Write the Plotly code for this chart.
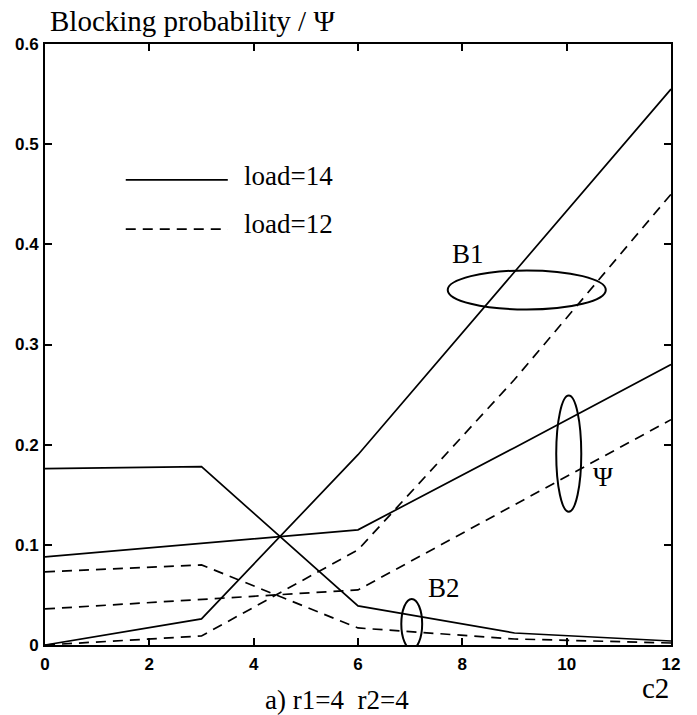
import plotly.graph_objects as go

# Number of channels c2 (evaluated points)
c2 = [0, 3, 6, 9, 12]

# load = 14
b1_load14 = [0.0, 0.026, 0.19, 0.372, 0.555]
b2_load14 = [0.176, 0.178, 0.039, 0.012, 0.004]
psi_load14 = [0.088, 0.1015, 0.115, 0.197, 0.28]

# load = 12
b1_load12 = [0.0, 0.009, 0.095, 0.265, 0.45]
b2_load12 = [0.073, 0.080, 0.017, 0.006, 0.002]
psi_load12 = [0.036, 0.0455, 0.055, 0.14, 0.225]

x_ticks = [0, 2, 4, 6, 8, 10, 12]
y_ticks = [0, 0.1, 0.2, 0.3, 0.4, 0.5, 0.6]
y_tick_text = ["0", "0.1", "0.2", "0.3", "0.4", "0.5", "0.6"]

SERIF = "Liberation Serif, Times New Roman, serif"
SANS = "Liberation Sans, Arial, sans-serif"
DASH = "10px,7px"

fig = go.Figure()

solid = dict(color="black", width=1.7)
dashed = dict(color="black", width=1.7, dash=DASH)

for ys in (b1_load14, b2_load14, psi_load14):
    fig.add_trace(go.Scatter(x=c2, y=ys, mode="lines", line=solid,
                             showlegend=False, hoverinfo="skip"))
for ys in (b1_load12, b2_load12, psi_load12):
    fig.add_trace(go.Scatter(x=c2, y=ys, mode="lines", line=dashed,
                             showlegend=False, hoverinfo="skip"))

# grouping ellipses around each pair of curves
ell = dict(type="circle", xref="x", yref="y", line=dict(color="black", width=2),
           fillcolor="rgba(0,0,0,0)")
fig.add_shape(x0=7.72, x1=10.75, y0=0.335, y1=0.374, **ell)
fig.add_shape(x0=9.8, x1=10.28, y0=0.133, y1=0.249, **ell)
fig.add_shape(x0=6.83, x1=7.23, y0=-0.004, y1=0.046, **ell)

# legend samples
fig.add_shape(type="line", xref="x domain", yref="y domain",
              x0=0.129, x1=0.292, y0=0.774, y1=0.774, line=solid)
fig.add_shape(type="line", xref="x domain", yref="y domain",
              x0=0.129, x1=0.292, y0=0.692, y1=0.692, line=dashed)

txt = dict(font=dict(family=SERIF, size=27, color="black"), showarrow=False)
fig.add_annotation(text="load=14", xref="x domain", yref="y domain",
                   x=0.314, y=0.780, xanchor="left", yanchor="middle", **txt)
fig.add_annotation(text="load=12", xref="x domain", yref="y domain",
                   x=0.314, y=0.700, xanchor="left", yanchor="middle", **txt)
fig.add_annotation(text="B1", x=8.1, y=0.39, xref="x", yref="y",
                   xanchor="center", yanchor="middle", **txt)
fig.add_annotation(text="Ψ", x=10.7, y=0.168, xref="x", yref="y",
                   xanchor="center", yanchor="middle", **txt)
fig.add_annotation(text="B2", x=7.65, y=0.057, xref="x", yref="y",
                   xanchor="center", yanchor="middle", **txt)

fig.add_annotation(text="Blocking probability / Ψ", xref="paper", yref="paper",
                   x=0.005, y=1.0, xanchor="left", yanchor="bottom", yshift=5,
                   font=dict(family=SERIF, size=29, color="black"), showarrow=False)
fig.add_annotation(text="a) r1=4  r2=4", xref="paper", yref="paper",
                   x=0.466, y=0, xanchor="center", yanchor="middle", yshift=-55, **txt)
fig.add_annotation(text="c2", xref="paper", yref="paper",
                   x=1.0, y=0, xanchor="right", yanchor="middle", yshift=-43,
                   font=dict(family=SERIF, size=29, color="black"), showarrow=False)

axis_common = dict(
    showgrid=False, zeroline=False, showline=True, linecolor="black", linewidth=2,
    mirror="ticks", ticks="inside", ticklen=7, tickwidth=1.5, tickcolor="black",
    tickfont=dict(family=SANS, size=17, color="black", weight="bold"),
)

fig.update_xaxes(range=[0, 12], tickvals=x_ticks, ticktext=[str(v) for v in x_ticks],
                 ticklabelstandoff=3, **axis_common)
fig.update_yaxes(range=[0, 0.6], tickvals=y_ticks, ticktext=y_tick_text,
                 ticklabelstandoff=1, **axis_common)

fig.update_layout(
    width=697, height=715,
    margin=dict(l=45, r=26, t=44, b=70),
    paper_bgcolor="white", plot_bgcolor="white",
    showlegend=False,
)

fig.write_html("out.html")
